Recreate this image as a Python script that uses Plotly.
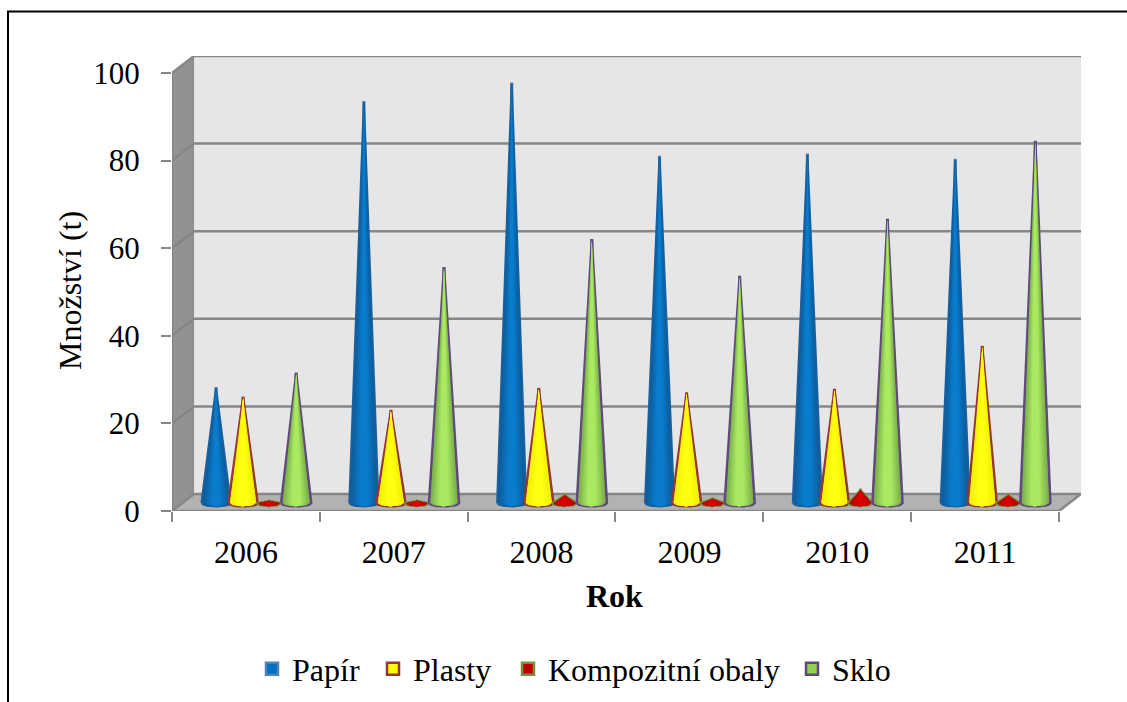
import plotly.graph_objects as go

years = ["2006", "2007", "2008", "2009", "2010", "2011"]
papir = [26.2, 91.5, 95.7, 79.0, 79.5, 78.3]
plasty = [24.0, 21.0, 26.0, 25.0, 25.8, 35.6]
kompozit = [0.5, 0.5, 1.8, 1.0, 3.0, 1.8]
sklo = [29.5, 53.6, 60.0, 51.6, 64.6, 82.4]
y_ticks = [0, 20, 40, 60, 80, 100]

L, R, T, B = 172, 1081, 56, 511
PW, PH = 1127, 702
xu = 6.154 / (R - L)      # x units per pixel
yu = 103.7 / (B - T)      # y units per pixel
DX, DY = 22 * xu, 17 * yu   # 3D depth
XMAX, YMAX = 6 + DX, 100 + DY
GRID = "#868686"

def mix(a, b, t):
    ca = [int(a[i:i + 2], 16) for i in (1, 3, 5)]
    cb = [int(b[i:i + 2], 16) for i in (1, 3, 5)]
    return "#" + "".join(f"{round(p + (q - p) * t):02x}" for p, q in zip(ca, cb))

series = [
    dict(name="Papír", v=papir, off=0.298, hw=14.5, line="#1a5f9e", legend_line="#4f81bd", lw=2.2,
         fill="#0070c0", edge="#0e5a98", mid="#0a7ccc", lx=252),
    dict(name="Plasty", v=plasty, off=0.481, hw=14.5, line="#953735", legend_line="#953735", lw=2.6,
         fill="#ffff00", edge="#eeee00", mid="#ffff10", lx=373),
    dict(name="Kompozitní obaly", v=kompozit, off=0.657, hw=12.5, line="#76923c", legend_line="#76923c", lw=2,
         fill="#c00000", edge="#b00000", mid="#d80000", lx=508),
    dict(name="Sklo", v=sklo, off=0.840, hw=15, line="#604a7b", legend_line="#604a7b", lw=2.6,
         fill="#92d050", edge="#78aa48", mid="#aaea62", lx=792),
]
BASE = 8 * yu     # cone base centre above the front floor edge
RY = 3.3 * yu
FACT = [1.0, 0.9, 0.8, 0.7, 0.6, 0.5, 0.4, 0.3, 0.2]

def cone(cx, top, hw):
    xs, ys = [cx - hw, cx, cx + hw], [BASE, top, BASE]
    for i in range(1, 17):
        t = i / 16
        xs.append(cx + hw * (1 - 2 * t))
        ys.append(BASE - RY * (1 - (2 * t - 1) ** 2) ** 0.5)
    return xs, ys

fig = go.Figure()
legends = {}
for i, s in enumerate(series):
    xc = [k + s["off"] for k in range(6)]
    key = "legend" if i == 0 else f"legend{i + 1}"
    legends[key] = dict(orientation="h", xref="container", yref="container", x=s["lx"] / PW, xanchor="left",
                        y=1 - 669 / PH, yanchor="middle", font=dict(size=32), bgcolor="rgba(0,0,0,0)",
                        itemclick=False, itemdoubleclick=False)
    # thin value bars sit behind each cone and give the blunt tip + legend key
    fig.add_trace(go.Bar(x=xc, y=s["v"], base=BASE, width=0.004, name=s["name"], legend=key, showlegend=True,
                         marker=dict(color=s["fill"], line=dict(color=s["legend_line"], width=2.5)),
                         hoverinfo="skip"))

for s in series:
    xc = [k + s["off"] for k in range(6)]
    for j, f in enumerate(FACT):
        xs, ys = [], []
        for c, v in zip(xc, s["v"]):
            px, py = cone(c, BASE + v, s["hw"] * xu * f)
            xs += px + [None]
            ys += py + [None]
        shade = mix(s["edge"], s["mid"], min(1, j / (len(FACT) - 2)))
        fig.add_trace(go.Scatter(x=xs, y=ys, mode="lines", fill="toself", fillcolor=shade,
                                 line=dict(color=s["line"] if j == 0 else shade, width=s["lw"] if j == 0 else 0),
                                 showlegend=False, hoverinfo="skip"))

line = dict(color=GRID, width=2.5)
none = dict(width=0)
shapes = [
    dict(type="path", path=f"M0,0 L{DX},{DY} L{DX},{YMAX} L0,100 Z", fillcolor="#929292", line=dict(color=GRID, width=1.5), layer="below"),
    dict(type="rect", x0=DX, x1=XMAX, y0=DY, y1=YMAX, fillcolor="#e6e6e6", line=none, layer="below"),
    dict(type="path", path=f"M0,0 L{DX},{DY} L{XMAX},{DY} L6,0 Z", fillcolor="#b2b2b2", line=none, layer="below"),
]
for t in y_ticks:
    shapes.append(dict(type="line", x0=DX, x1=XMAX, y0=t + DY, y1=t + DY, line=line, layer="below"))
    shapes.append(dict(type="line", x0=0, x1=DX, y0=t, y1=t + DY, line=line, layer="below"))
shapes += [
    dict(type="line", x0=0, x1=0, y0=0, y1=100, line=line, layer="below"),
    dict(type="line", x0=0, x1=6, y0=0, y1=0, line=line, layer="below"),
    dict(type="line", x0=6, x1=XMAX, y0=0, y1=DY, line=line, layer="below"),
    # outer frame of the picture
    dict(type="path", xref="paper", yref="paper",
         path=(f"M{(8-L)/(R-L)},{(B-702)/(B-T)} L{(8-L)/(R-L)},{(B-11.5)/(B-T)} "
               f"L{(1127-L)/(R-L)},{(B-11.5)/(B-T)}"),
         line=dict(color="#000000", width=2), layer="below"),
]

font = dict(family="Liberation Serif, Times New Roman, serif", color="#000000", size=32)
fig.update_layout(
    width=PW, height=PH, margin=dict(l=L, r=PW - R, t=T, b=PH - B, pad=0, autoexpand=False),
    paper_bgcolor="#ffffff", plot_bgcolor="rgba(0,0,0,0)", font=font, barmode="overlay",
    shapes=shapes,
    xaxis=dict(range=[0, XMAX], tickmode="array", tickvals=[k + 0.5 for k in range(6)], ticktext=years,
               ticks="", showgrid=False, zeroline=False, showline=False, ticklabelstandoff=19, automargin=False,
               minor=dict(tickmode="array", tickvals=list(range(7)), ticks="outside", ticklen=10, tickwidth=2,
                          tickcolor=GRID, showgrid=False)),
    yaxis=dict(range=[0, YMAX], tickmode="array", tickvals=y_ticks, ticks="outside", ticklen=10, tickwidth=2,
               tickcolor=GRID, showgrid=False, zeroline=False, showline=False, ticklabelstandoff=15, automargin=False,
               tickfont=dict(size=31)),
    annotations=[
        dict(text="<b>Rok</b>", xref="paper", yref="paper", x=(614 - L) / (R - L), y=(B - 596) / (B - T),
             xanchor="center", yanchor="middle", showarrow=False, font=dict(size=32)),
        dict(text="Množství (t)", xref="paper", yref="paper", x=(70 - L) / (R - L), y=(B - 291) / (B - T),
             xanchor="center", yanchor="middle", textangle=-90, showarrow=False, font=dict(size=32)),
    ],
    **legends,
)
fig.write_html("out.html", config={"displayModeBar": False},
               post_script="document.body.style.margin='0';document.body.style.overflow='hidden';")
